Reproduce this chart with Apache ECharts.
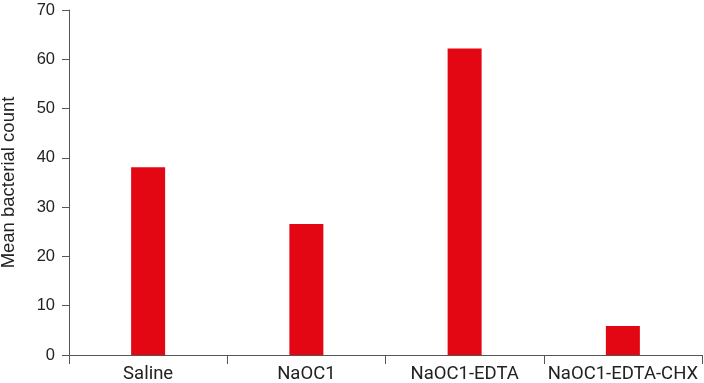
<!DOCTYPE html>
<html><head><meta charset="utf-8">
<script src="https://cdn.jsdelivr.net/npm/echarts@6/dist/echarts.min.js"></script>
<style>html,body{margin:0;padding:0;background:#fff}#c{width:704px;height:383px}</style>
</head><body><div id="c"></div>
<script>
const categories = ['Saline', 'NaOC1', 'NaOC1-EDTA', 'NaOC1-EDTA-CHX'];
const meanCounts = [38.1, 26.6, 62.2, 5.9];
const yTicks = { min: 0, max: 70, interval: 10 };
const yName = 'Mean bacterial count';

const chart = echarts.init(document.getElementById('c'));
chart.setOption({
  animation: false,
  grid: { left: 69, right: 2, top: 10, bottom: 28, containLabel: false, outerBoundsMode: 'none' },
  xAxis: {
    type: 'category', data: categories, boundaryGap: true,
    axisLine: { lineStyle: { color: '#555', width: 1 } },
    axisTick: { show: true, length: 9, lineStyle: { color: '#555' } },
    axisLabel: { color: '#222', fontSize: 18.5, fontFamily: 'Roboto', margin: 10, interval: 0 }
  },
  yAxis: {
    type: 'value', min: yTicks.min, max: yTicks.max, interval: yTicks.interval,
    name: yName, nameLocation: 'middle', nameGap: 51, nameRotate: 90,
    nameTextStyle: { color: '#222', fontSize: 18.5, fontFamily: 'Liberation Sans' },
    axisLine: { show: true, lineStyle: { color: '#555', width: 1 } },
    axisTick: { show: true, length: 7, lineStyle: { color: '#555' } },
    axisLabel: { color: '#222', fontSize: 16.5, fontFamily: 'Liberation Sans', margin: 14 },
    splitLine: { show: false }
  },
  series: [{
    type: 'bar', data: meanCounts, barWidth: 34,
    itemStyle: { color: '#e30613' }
  }]
});
</script></body></html>
